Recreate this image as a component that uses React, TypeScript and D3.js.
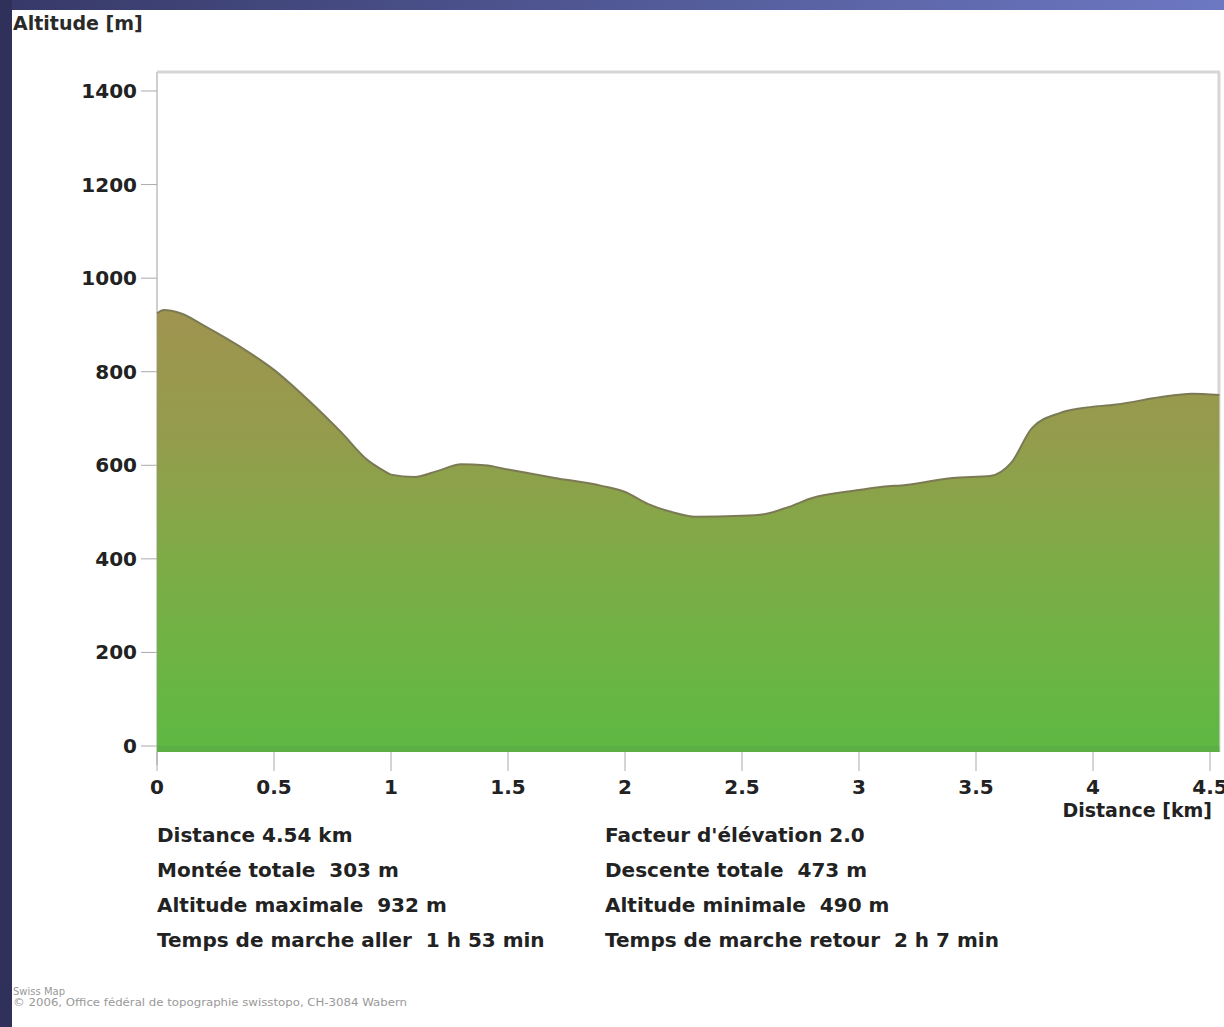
import React from "react";
import * as d3 from "d3";

// profile: distance (km) / altitude (m)
const distances = [0, 0.03, 0.1, 0.21, 0.36, 0.5, 0.645, 0.79, 0.9, 0.97, 1.0, 1.1, 1.2, 1.3, 1.4, 1.5, 1.7, 1.9, 2.0, 2.1, 2.2, 2.3, 2.5, 2.6, 2.7, 2.8, 3.0, 3.1, 3.2, 3.4, 3.56, 3.65, 3.74, 3.86, 3.95, 4.1, 4.32, 4.42, 4.54];
const altitudes = [925, 932, 925, 896, 852, 804, 740, 669, 611, 588, 580, 575, 588, 602, 600, 591, 573, 556, 543, 517, 500, 490, 492, 496, 511, 530, 547, 554, 558, 573, 577, 605, 680, 712, 722, 730, 748, 753, 750];

const yTicks = [0, 200, 400, 600, 800, 1000, 1200, 1400];
const xTicks = [0, 0.5, 1, 1.5, 2, 2.5, 3, 3.5, 4, 4.5];

const statsLeft = ["Distance 4.54 km", "Montée totale  303 m", "Altitude maximale  932 m", "Temps de marche aller  1 h 53 min"];
const statsRight = ["Facteur d'élévation 2.0", "Descente totale  473 m", "Altitude minimale  490 m", "Temps de marche retour  2 h 7 min"];

const W = 1224;
const H = 1027;
const font = "'DejaVu Sans', Verdana, sans-serif";

export default function App() {
  const x = d3.scaleLinear().domain([0, 4.5]).range([157, 1210]);
  const y = d3.scaleLinear().domain([0, 1400]).range([746, 91]);
  const bottom = 752;

  const pts = distances.map((d, i) => [d, altitudes[i]] as [number, number]);
  const area = d3
    .area<[number, number]>()
    .x((d) => x(d[0]))
    .y0(bottom)
    .y1((d) => y(d[1]))
    .curve(d3.curveMonotoneX);
  const line = d3
    .line<[number, number]>()
    .x((d) => x(d[0]))
    .y((d) => y(d[1]))
    .curve(d3.curveMonotoneX);

  const right = x(4.54);

  return (
    <svg width={W} height={H} style={{ position: "absolute", left: 0, top: 0 }} fontFamily={font}>
      <defs>
        <linearGradient id="bar" x1="0" x2="1" y1="0" y2="0">
          <stop offset="0" stopColor="#363968" />
          <stop offset="1" stopColor="#6c78c2" />
        </linearGradient>
        <linearGradient id="fill" x1="0" x2="0" y1={y(950)} y2={bottom} gradientUnits="userSpaceOnUse">
          <stop offset="0" stopColor="#a09350" />
          <stop offset="0.3" stopColor="#949c4c" />
          <stop offset="0.55" stopColor="#80aa47" />
          <stop offset="0.8" stopColor="#6cb444" />
          <stop offset="1" stopColor="#5eb843" />
        </linearGradient>
      </defs>
      <rect width={W} height={H} fill="#ffffff" />
      <rect width={W} height={10} fill="url(#bar)" />
      <rect width={12} height={H} fill="#30315a" />

      {/* frame */}
      <line x1={157} x2={1220} y1={72} y2={72} stroke="#d6d6d6" strokeWidth={3} />
      <line x1={1219} x2={1219} y1={72} y2={bottom} stroke="#d6d6d6" strokeWidth={3} />
      <line x1={157} x2={157} y1={72} y2={765} stroke="#cfcfcf" strokeWidth={2} />

      <path d={area(pts) ?? ""} fill="url(#fill)" />
      <path d={line(pts) ?? ""} fill="none" stroke="#7b7a55" strokeWidth={2} />
      <rect x={157} y={746} width={right - 157} height={6} fill="#5aa946" opacity={0.6} />

      {yTicks.map((t) => (
        <g key={t}>
          <line x1={141} x2={157} y1={y(t)} y2={y(t)} stroke="#aaaaaa" strokeWidth={1} />
          <text x={137} y={y(t)} dy="0.35em" textAnchor="end" fontSize={20} fontWeight="bold" fill="#222">
            {t}
          </text>
        </g>
      ))}

      {xTicks.map((t) => (
        <g key={t}>
          <line x1={x(t)} x2={x(t)} y1={bottom} y2={771} stroke="#aaaaaa" strokeWidth={1} />
          <text x={x(t)} y={794} textAnchor="middle" fontSize={20} fontWeight="bold" fill="#222">
            {t}
          </text>
        </g>
      ))}

      <text x={13} y={30} fontSize={19} fontWeight="bold" fill="#2a2a2a">
        Altitude [m]
      </text>
      <text x={1212} y={817} textAnchor="end" fontSize={19} fontWeight="bold" fill="#222">
        Distance [km]
      </text>

      {statsLeft.map((s, i) => (
        <text key={s} x={157} y={842 + i * 35} fontSize={20} fontWeight="bold" fill="#222" xmlSpace="preserve">
          {s}
        </text>
      ))}
      {statsRight.map((s, i) => (
        <text key={s} x={605} y={842 + i * 35} fontSize={20} fontWeight="bold" fill="#222" xmlSpace="preserve">
          {s}
        </text>
      ))}

      <text x={13} y={995} fontSize={10} fill="#999">
        Swiss Map
      </text>
      <text x={13} y={1006} fontSize={10} fill="#999" textLength={394} lengthAdjust="spacingAndGlyphs">
        © 2006, Office fédéral de topographie swisstopo, CH-3084 Wabern
      </text>
    </svg>
  );
}
